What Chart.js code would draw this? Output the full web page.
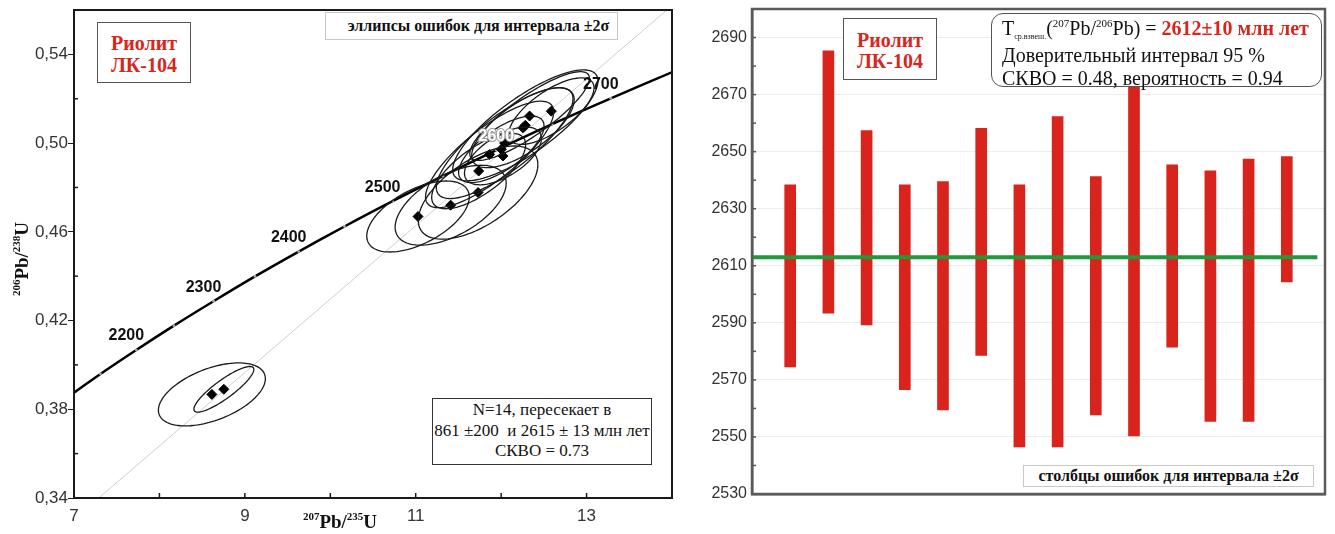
<!DOCTYPE html>
<html>
<head>
<meta charset="utf-8">
<script src="https://cdn.jsdelivr.net/npm/chart.js@4.4.1/dist/chart.umd.min.js"></script>
<style>
html, body { margin: 0; padding: 0; background: #fff; }
body { width: 1335px; height: 534px; position: relative; overflow: hidden; font-family: "Liberation Serif", "Times New Roman", serif; }
.panel { position: absolute; top: 0; height: 534px; }
#leftWrap { left: 0; width: 680px; }
#rightWrap { left: 680px; width: 655px; }
.box { position: absolute; box-sizing: border-box; background: #fff; white-space: nowrap; z-index: 2; color: #111; }
.name { text-align: center; color: #d9261c; font-weight: bold; font-size: 20px; }
.sup { font-size: 11px; position: relative; top: -8px; }
.sub { font-size: 8px; position: relative; top: 4px; }
.red { color: #d9261c; font-weight: bold; }
.title { position: absolute; z-index: 2; font-weight: bold; font-size: 19px; line-height: 22px; text-align: center; color: #111; white-space: nowrap; }
</style>
</head>
<body>
<div id="leftWrap" class="panel"><canvas id="leftCanvas"></canvas></div>
<div id="rightWrap" class="panel"><canvas id="rightCanvas"></canvas></div>

<div class="box name" style="left:97px;top:22px;width:94px;height:61px;border:1.5px solid #555;padding-top:8.5px;line-height:22px;">Риолит<br>ЛК-104</div>
<div class="box" style="left:325px;top:12px;width:293px;height:28px;border:1px solid #c8c8c8;font-weight:bold;font-size:16px;line-height:26px;text-align:center;padding-left:14px;">эллипсы ошибок для интервала ±2σ</div>
<div class="box" style="left:432px;top:398px;width:220px;height:67px;border:1.5px solid #333;font-size:17px;line-height:20.5px;text-align:center;padding-top:1px;">N=14, пересекает в<br>861 ±200&nbsp; и 2615 ± 13 млн лет<br>СКВО = 0.73</div>
<div class="title" style="left:280px;top:511px;width:120px;"><span class="sup">207</span>Pb/<span class="sup">235</span>U</div>
<div class="title" style="left:-37px;top:247px;width:120px;transform:rotate(-90deg);"><span class="sup">206</span>Pb/<span class="sup">238</span>U</div>

<div class="box name" style="left:843px;top:18px;width:94px;height:62px;border:1.5px solid #555;padding-top:11px;line-height:21px;">Риолит<br>ЛК-104</div>
<div class="box" style="left:991px;top:13px;width:331px;height:74px;border:1.5px solid #555;border-radius:12px;font-size:20px;line-height:23px;padding-left:10px;padding-top:3px;">T<span class="sub">ср.взвеш.</span>(<span class="sup">207</span>Pb/<span class="sup">206</span>Pb) = <span class="red">2612±10 млн лет</span><br>Доверительный интервал 95 %<br>СКВО = 0.48, вероятность = 0.94</div>
<div class="box" style="left:1023px;top:465px;width:291px;height:22px;border:1px solid #c8c8c8;font-weight:bold;font-size:16px;line-height:20px;text-align:center;">столбцы ошибок для интервала ±2σ</div>

<script>
// Конкордия: возраст (млн лет) и отношения 207Pb/235U, 206Pb/238U
const concAges = [2100, 2150, 2200, 2250, 2300, 2350, 2400, 2450, 2500, 2550, 2600, 2650, 2700, 2750];
const concX = [6.910, 7.310, 7.729, 8.170, 8.633, 9.119, 9.630, 10.166, 10.730, 11.322, 11.944, 12.597, 13.284, 14.004];
const concY = [0.3851, 0.3959, 0.4067, 0.4177, 0.4287, 0.4399, 0.4511, 0.4624, 0.4738, 0.4852, 0.4968, 0.5085, 0.5202, 0.5320];
const labelAges = [2200, 2300, 2400, 2500, 2600, 2700];

// Дискордия (концы линии на краях поля)
const discordX = [7.29, 13.94];
const discordY = [0.34, 0.56];

// Анализы: центры эллипсов, ошибки 2σ и коэффициент корреляции
const pointX = [8.614, 8.754, 11.027, 11.409, 11.730, 11.737, 11.865, 12.002, 12.021, 12.041, 12.255, 12.283, 12.333, 12.587];
const pointY = [0.3867, 0.3890, 0.4669, 0.4720, 0.4777, 0.4874, 0.4949, 0.4972, 0.4942, 0.5000, 0.5069, 0.5080, 0.5122, 0.5144];
const errX = [0.626, 0.351, 0.60, 0.65, 0.70, 0.55, 0.75, 0.50, 0.45, 0.80, 0.60, 0.85, 0.70, 0.50];
const errY = [0.0142, 0.0103, 0.0160, 0.0180, 0.0210, 0.0170, 0.0240, 0.0150, 0.0130, 0.0250, 0.0180, 0.0250, 0.0200, 0.0150];
const errRho = [0.50, 0.87, 0.55, 0.55, 0.60, 0.70, 0.80, 0.70, 0.60, 0.80, 0.70, 0.80, 0.85, 0.70];

// Подписи осей левого графика
const leftXTicks = [7, 9, 11, 13];
const leftYTicks = ['0,34', '0,38', '0,42', '0,46', '0,50', '0,54'];

// Правый график: возрасты зерен (млн лет), интервал ±2σ
const grainNo = [1, 2, 3, 4, 5, 6, 7, 8, 9, 10, 11, 12, 13, 14];
const ageLow = [2574.5, 2593.4, 2589.3, 2566.6, 2559.5, 2578.6, 2546.5, 2546.5, 2557.7, 2550.4, 2581.5, 2555.4, 2555.4, 2604.3];
const ageHigh = [2638.4, 2685.3, 2657.4, 2638.4, 2639.5, 2658.2, 2638.4, 2662.3, 2641.3, 2673.4, 2645.4, 2643.3, 2647.4, 2648.3];
const meanAge = 2613;
const meanSpan = [0, 14.8];
const rightYTicks = [2530, 2550, 2570, 2590, 2610, 2630, 2650, 2670, 2690];

const sansFont = '"Liberation Sans", Arial, sans-serif';

// рамка вокруг поля и внутренние засечки
const framePlugin = {
    id: 'frame',
    afterDraw(chart, args, opts) {
        const { ctx, chartArea: a, scales } = chart;
        ctx.save();
        ctx.lineWidth = 1.5;
        ctx.strokeStyle = opts.tickColor;
        if (opts.xTicksIn) {
            scales.x.ticks.forEach((t) => {
                const px = scales.x.getPixelForValue(t.value);
                ctx.beginPath(); ctx.moveTo(px, a.bottom); ctx.lineTo(px, a.bottom - opts.xTicksIn); ctx.stroke();
            });
        }
        if (opts.yTicksIn) {
            scales.y.ticks.forEach((t) => {
                if (opts.minorOnly && t.label !== '') return;
                const py = scales.y.getPixelForValue(t.value);
                ctx.beginPath(); ctx.moveTo(a.left, py); ctx.lineTo(a.left + opts.yTicksIn, py); ctx.stroke();
            });
        }
        ctx.strokeStyle = opts.color;
        ctx.lineWidth = opts.width;
        ctx.strokeRect(a.left, a.top, a.right - a.left, a.bottom - a.top);
        ctx.restore();
    }
};

// эллипсы ошибок
const ellipsePlugin = {
    id: 'ellipses',
    afterDatasetsDraw(chart) {
        const { ctx, chartArea: a, scales: { x, y } } = chart;
        ctx.save();
        ctx.beginPath();
        ctx.rect(a.left, a.top, a.right - a.left, a.bottom - a.top);
        ctx.clip();
        ctx.strokeStyle = '#1a1a1a';
        ctx.lineWidth = 1.3;
        for (let i = 0; i < pointX.length; i++) {
            const r = errRho[i];
            ctx.beginPath();
            for (let k = 0; k <= 120; k++) {
                const t = (k / 120) * Math.PI * 2;
                const ex = pointX[i] + errX[i] * Math.cos(t);
                const ey = pointY[i] + errY[i] * (r * Math.cos(t) + Math.sqrt(1 - r * r) * Math.sin(t));
                const px = x.getPixelForValue(ex);
                const py = y.getPixelForValue(ey);
                if (k === 0) ctx.moveTo(px, py); else ctx.lineTo(px, py);
            }
            ctx.stroke();
        }
        ctx.restore();
    }
};

// подписи возрастов на конкордии
const ageLabelPlugin = {
    id: 'ageLabels',
    afterDraw(chart) {
        const { ctx, scales: { x, y } } = chart;
        ctx.save();
        ctx.font = 'bold 16px ' + sansFont;
        ctx.textAlign = 'center';
        ctx.textBaseline = 'bottom';
        concAges.forEach((age, i) => {
            if (!labelAges.includes(age)) return;
            const inCluster = age === 2600;
            const px = x.getPixelForValue(concX[i]) + (inCluster ? 0 : -10);
            const py = y.getPixelForValue(concY[i]) - 6;
            if (inCluster) {
                ctx.lineWidth = 2;
                ctx.strokeStyle = '#9a9a9a';
                ctx.strokeText(String(age), px, py);
                ctx.fillStyle = '#fff';
                ctx.fillText(String(age), px, py);
            } else {
                ctx.fillStyle = '#111';
                ctx.fillText(String(age), px, py);
            }
        });
        ctx.restore();
    }
};

new Chart(document.getElementById('leftCanvas'), {
    type: 'scatter',
    data: {
        datasets: [
            {
                label: 'дискордия',
                data: discordX.map((v, i) => ({ x: v, y: discordY[i] })),
                showLine: true,
                borderColor: '#cfcfcf',
                borderWidth: 1,
                pointRadius: 0,
                order: 3
            },
            {
                label: 'конкордия',
                data: concAges.map((age, i) => ({ x: concX[i], y: concY[i] })),
                showLine: true,
                borderColor: '#000',
                borderWidth: 2.5,
                tension: 0.3,
                pointRadius: 1.4,
                pointBorderWidth: 0,
                pointBackgroundColor: '#aaa',
                clip: 0,
                order: 2
            },
            {
                label: 'анализы',
                data: pointX.map((v, i) => ({ x: v, y: pointY[i] })),
                pointStyle: 'rectRot',
                pointRadius: 5,
                backgroundColor: '#000',
                borderColor: '#000',
                order: 1
            }
        ]
    },
    options: {
        animation: false,
        responsive: true,
        maintainAspectRatio: false,
        layout: { padding: { left: 0, top: 10, right: 8, bottom: 0 } },
        plugins: {
            legend: { display: false },
            tooltip: { enabled: false },
            frame: { color: '#1a1a1a', width: 2, tickColor: '#1a1a1a', xTicksIn: 5, yTicksIn: 4, minorOnly: true }
        },
        scales: {
            x: {
                type: 'linear',
                min: 7,
                max: 14,
                afterFit: (s) => { s.height = 36; },
                ticks: {
                    stepSize: 1,
                    autoSkip: false,
                    maxRotation: 0,
                    padding: 8,
                    color: '#333',
                    font: { family: sansFont, size: 17 },
                    callback: (v) => (leftXTicks.includes(v) ? String(v) : '')
                },
                grid: { drawOnChartArea: false, drawTicks: false },
                border: { color: '#1a1a1a', width: 2 }
            },
            y: {
                type: 'linear',
                min: 0.34,
                max: 0.56,
                afterFit: (s) => { s.width = 74; },
                ticks: {
                    stepSize: 0.02,
                    autoSkip: false,
                    padding: 0,
                    color: '#333',
                    font: { family: sansFont, size: 17, lineHeight: 1 },
                    callback: (v) => {
                        const s = v.toFixed(2).replace('.', ',');
                        return leftYTicks.includes(s) ? s : '';
                    }
                },
                grid: {
                    drawOnChartArea: false,
                    drawTicks: true,
                    tickLength: 6,
                    tickColor: (c) => (c.tick && leftYTicks.includes(c.tick.value.toFixed(2).replace('.', ',')) ? '#1a1a1a' : 'rgba(0,0,0,0)')
                },
                border: { color: '#1a1a1a', width: 2 }
            }
        }
    },
    plugins: [ellipsePlugin, ageLabelPlugin, framePlugin]
});

new Chart(document.getElementById('rightCanvas'), {
    type: 'bar',
    data: {
        datasets: [
            {
                type: 'line',
                label: 'средневзвешенный возраст',
                data: meanSpan.map((v) => ({ x: v, y: meanAge })),
                borderColor: '#1f9a3a',
                borderWidth: 4,
                pointRadius: 0,
                order: 0
            },
            {
                type: 'bar',
                label: 'возраст ±2σ',
                data: grainNo.map((n, i) => ({ x: n, y: [ageLow[i], ageHigh[i]] })),
                backgroundColor: '#d8241c',
                borderWidth: 0,
                barThickness: 11,
                order: 1
            }
        ]
    },
    options: {
        animation: false,
        responsive: true,
        maintainAspectRatio: false,
        layout: { padding: { left: 0, top: 9, right: 10, bottom: 0 } },
        plugins: {
            legend: { display: false },
            tooltip: { enabled: false },
            frame: { color: '#5a5a5a', width: 2.5, tickColor: '#555', yTicksIn: 4 }
        },
        scales: {
            x: {
                type: 'linear',
                min: 0,
                max: 15,
                offset: false,
                afterFit: (s) => { s.height = 40; },
                ticks: { display: false },
                grid: { display: false },
                border: { color: '#5a5a5a', width: 2.5 }
            },
            y: {
                type: 'linear',
                min: 2530,
                max: 2700,
                afterFit: (s) => { s.width = 72; },
                ticks: {
                    stepSize: 10,
                    autoSkip: false,
                    padding: 0,
                    color: '#333',
                    font: { family: sansFont, size: 16, lineHeight: 1 },
                    callback: (v) => (rightYTicks.includes(v) ? String(v) : '')
                },
                grid: {
                    drawTicks: true,
                    tickLength: 5,
                    tickColor: 'rgba(0,0,0,0)',
                    color: (c) => (c.tick && rightYTicks.includes(c.tick.value) ? '#ececec' : 'rgba(0,0,0,0)')
                },
                border: { color: '#5a5a5a', width: 2.5 }
            }
        }
    },
    plugins: [framePlugin]
});
</script>
</body>
</html>
